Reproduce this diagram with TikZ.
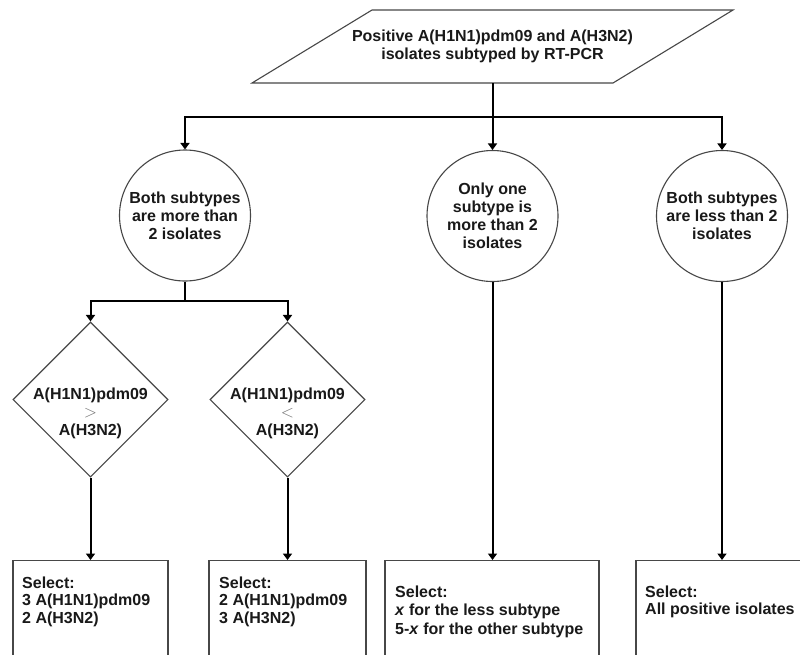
\documentclass[tikz,border=0pt]{standalone}
\usepackage{fontspec}
\setmainfont{Liberation Sans}
\usetikzlibrary{shapes.geometric,arrows.meta}
\begin{document}
\begin{tikzpicture}[x=1pt,y=-1pt,
  shapeline/.style={draw=black!72, line width=1.1pt},
  conn/.style={draw=black, line width=2pt},
  arr/.style={conn, -{Triangle[width=9pt,length=6.5pt]}},
  lbl/.style={font=\bfseries\fontsize{16}{18}\selectfont, align=center, inner sep=0pt, text=black!90},
  circ/.style={circle, shapeline, minimum size=131pt, inner sep=0pt, lbl},
  dia/.style={diamond, shapeline, minimum width=155pt, minimum height=155pt, inner sep=0pt},
  boxs/.style={rectangle, shapeline, minimum height=130pt, inner sep=0pt, anchor=north},
  txt/.style={font=\bfseries\fontsize{16}{17.5}\selectfont, align=left, inner sep=0pt, anchor=north west, text=black!90},
  txtb/.style={txt, font=\bfseries\fontsize{16}{18.5}\selectfont}]
\useasboundingbox (0,0) rectangle (800,654);
\clip (0,0) rectangle (800,654);
\fill[white] (0,0) rectangle (800,654);

% top parallelogram
\draw[shapeline] (372,10) -- (733,10) -- (613,83) -- (252,83) -- cycle;
\node[lbl] (top) at (492.5,46.5) {Positive A(H1N1)pdm09 and A(H3N2)\\isolates subtyped by RT-PCR};
\coordinate (pb) at (492.5,83);
\coordinate (j1) at (492.5,117);

% circles
\node[circ] (c1) at (185,215.5) {Both subtypes\\are more than\\2 isolates};
\node[circ] (c2) at (492.5,216) {Only one\\subtype is\\more than 2\\isolates};
\node[circ] (c3) at (722,216) {Both subtypes\\are less than 2\\isolates};

\draw[conn] (pb) -- (j1);
\draw[arr] (j1) -| (c1.north);
\draw[arr] (j1) -- (c2.north);
\draw[arr] (j1) -| (c3.north);

% diamonds
\node[dia] (d1) at (90.5,399.5) {};
\node[dia] (d2) at (287.5,399.5) {};
\node[lbl] (d1t) at (90.5,413) {A(H1N1)pdm09\\{\mdseries\color{black!55}$>$}\\A(H3N2)};
\node[lbl] (d2t) at (287.5,413) {A(H1N1)pdm09\\{\mdseries\color{black!55}$<$}\\A(H3N2)};

\coordinate (j2) at (185,301);
\draw[conn] (c1.south) -- (j2);
\draw[arr] (j2) -| (d1.north);
\draw[arr] (j2) -| (d2.north);

% boxes
\node[boxs, minimum width=155pt] (b1) at (90.5,560) {};
\node[boxs, minimum width=157pt] (b2) at (287.5,560) {};
\node[boxs, minimum width=214pt] (b3) at (492,560) {};
\node[boxs, minimum width=214pt] (b4) at (743,560) {};

\draw[arr] (d1.south) -- (b1.north);
\draw[arr] (d2.south) -- (b2.north);
\draw[arr] (c2.south) -- (c2.south |- b3.north);
\draw[arr] (c3.south) -- (c3.south |- b4.north);

\node[txt] (t1) at (22,576.5) {Select:\\3 A(H1N1)pdm09\\2 A(H3N2)};
\node[txt] (t2) at (219,576.5) {Select:\\2 A(H1N1)pdm09\\3 A(H3N2)};
\node[txtb] (t3) at (395,585.5) {Select:\\\textit{x} for the less subtype\\5-\textit{x} for the other subtype};
\node[txt] (t4) at (645,585.5) {Select:\\All positive isolates};
\end{tikzpicture}
\end{document}
